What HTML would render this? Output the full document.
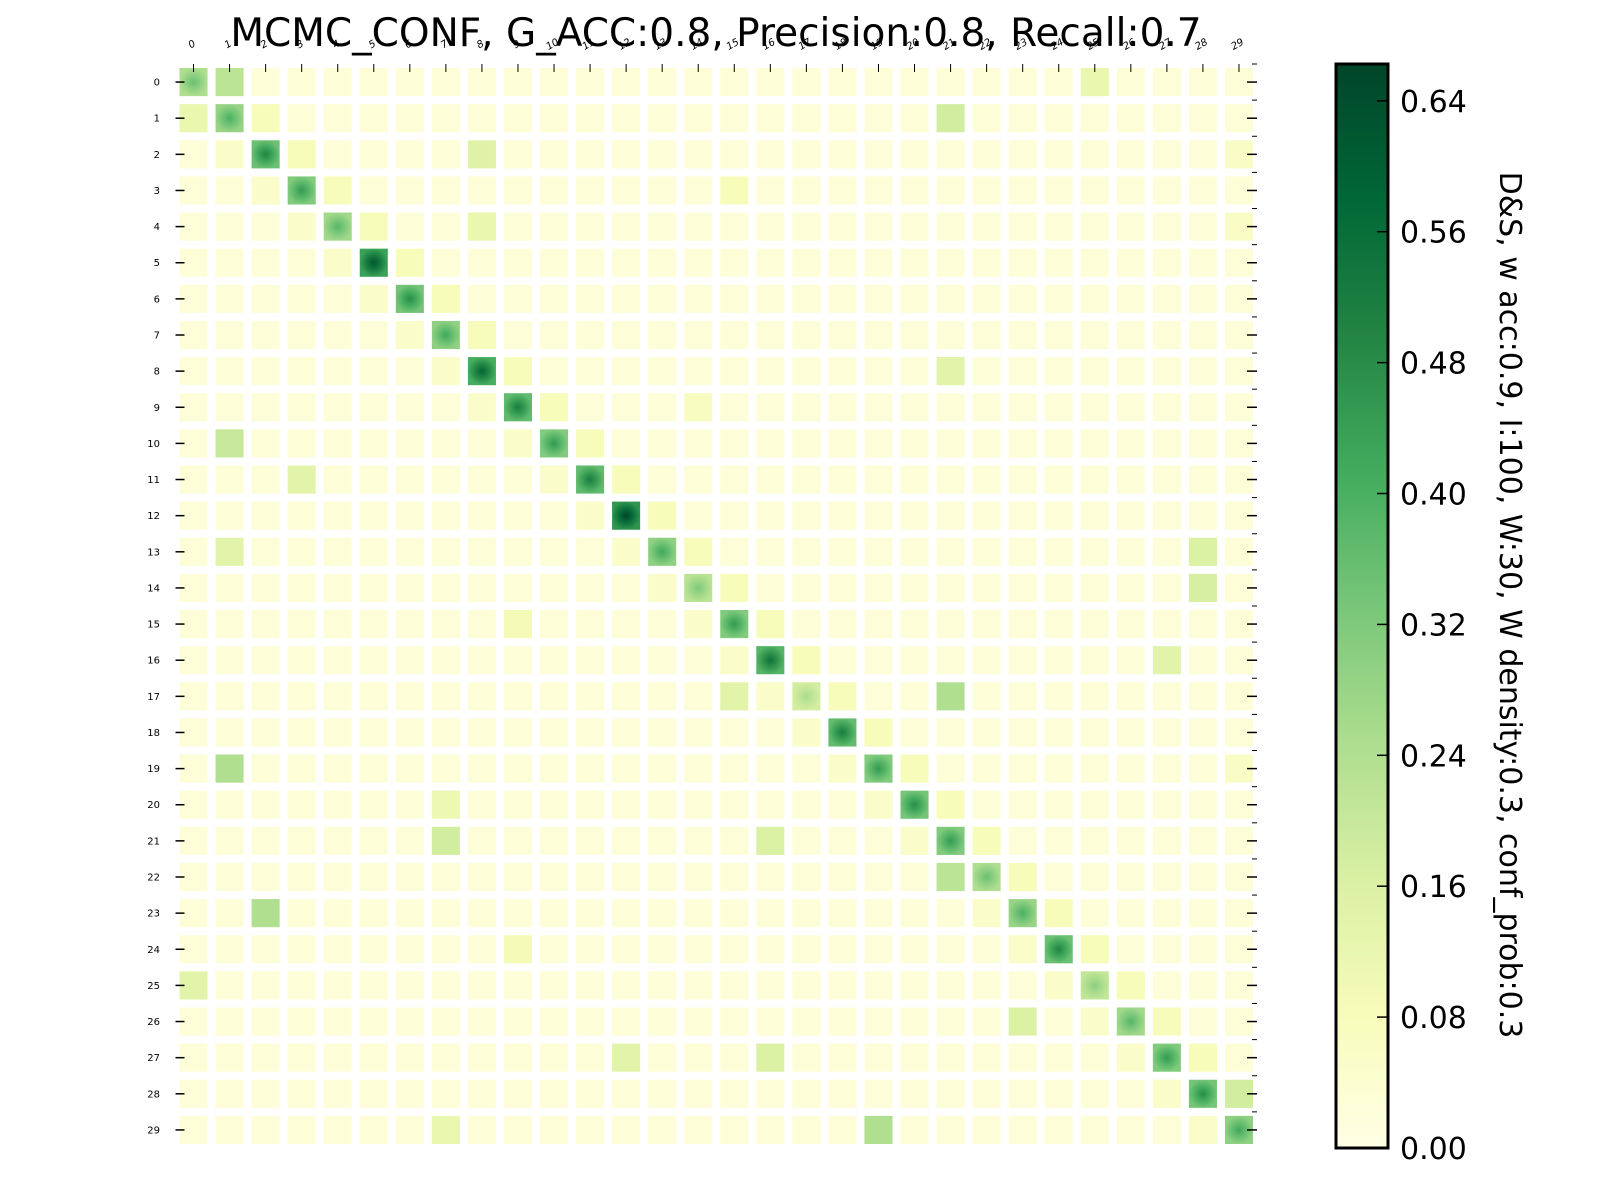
<!DOCTYPE html>
<html><head><meta charset="utf-8"><style>
body{margin:0;background:#fff;width:1600px;height:1200px;overflow:hidden;font-family:"DejaVu Sans","Liberation Sans",sans-serif}
svg text{font-family:"DejaVu Sans","Liberation Sans",sans-serif}
</style></head><body>
<svg id="svg" width="1600" height="1200" xmlns="http://www.w3.org/2000/svg">
<defs>
<linearGradient id="cbg" x1="0" y1="1" x2="0" y2="0">
<stop offset="0" stop-color="#ffffe5"/><stop offset="0.125" stop-color="#f7fcb9"/><stop offset="0.25" stop-color="#d9f0a3"/><stop offset="0.375" stop-color="#addd8e"/><stop offset="0.5" stop-color="#78c679"/><stop offset="0.625" stop-color="#41ab5d"/><stop offset="0.75" stop-color="#238443"/><stop offset="0.875" stop-color="#006837"/><stop offset="1" stop-color="#004529"/>
</linearGradient>
</defs>
<text x="716" y="46" font-size="39" text-anchor="middle">MCMC_CONF, G_ACC:0.8, Precision:0.8, Recall:0.7</text>
<g id="cells"></g>
<g id="axes"></g>
<rect x="1336" y="64" width="52" height="1084" fill="url(#cbg)" stroke="#000" stroke-width="3"/>
<g id="cbticks"></g>
<text transform="translate(1500,605) rotate(90)" font-size="30" text-anchor="middle">D&amp;S, w acc:0.9, I:100, W:30, W density:0.3, conf_prob:0.3</text>
</svg>
<script>
const N = 30;
const diagValues = [0.35,0.40,0.50,0.45,0.38,0.62,0.48,0.42,0.58,0.52,0.45,0.52,0.66,0.42,0.32,0.45,0.55,0.25,0.52,0.45,0.48,0.45,0.35,0.40,0.50,0.30,0.38,0.45,0.48,0.42];
const offRows = [0,1,1,2,3,4,8,10,11,13,13,14,15,16,17,17,19,20,21,21,22,23,24,25,26,27,27,29,29,0,2,4,9,19,28];
const offCols = [1,0,21,8,15,8,21,1,3,1,28,28,9,27,21,15,1,7,7,16,21,2,9,0,23,12,16,19,7,25,29,29,14,29,29];
const offValues = [0.22,0.12,0.18,0.15,0.08,0.12,0.14,0.20,0.14,0.14,0.16,0.17,0.09,0.14,0.24,0.14,0.24,0.11,0.18,0.16,0.22,0.24,0.09,0.14,0.16,0.14,0.16,0.24,0.12,0.12,0.06,0.06,0.07,0.06,0.18];
const cbTicks = [0,0.08,0.16,0.24,0.32,0.40,0.48,0.56,0.64];
const VMAX = 0.6625;
const X0=175.5, X1=1257, Y0=64, Y1=1148;
const stops=[[0,[255,255,229]],[0.125,[247,252,185]],[0.25,[217,240,163]],[0.375,[173,221,142]],[0.5,[120,198,121]],[0.625,[65,171,93]],[0.75,[35,132,67]],[0.875,[0,104,55]],[1,[0,69,41]]];
function cmap(v){let t=Math.max(0,Math.min(1,v/VMAX));for(let i=1;i<stops.length;i++){if(t<=stops[i][0]){const a=stops[i-1],b=stops[i];const f=(t-a[0])/(b[0]-a[0]);const c=a[1].map((x,k)=>Math.round(x+(b[1][k]-x)*f));return `rgb(${c})`;}}return 'rgb(0,69,41)';}
const xs=i=>X0+(X1-X0)*i/N, ys=i=>Y0+(Y1-Y0)*i/N;
const M=[];for(let r=0;r<N;r++){M.push([]);for(let c=0;c<N;c++)M[r].push(0.025);}
for(let i=0;i<N;i++){M[i][i]=diagValues[i];if(i+1<N){M[i][i+1]=Math.max(M[i][i+1],0.08);M[i+1][i]=Math.max(M[i+1][i],0.05);}}
offRows.forEach((r,k)=>{M[r][offCols[k]]=offValues[k];});
const NS='http://www.w3.org/2000/svg';
const svg=document.getElementById('svg'), defs=svg.querySelector('defs'), cells=document.getElementById('cells'), axes=document.getElementById('axes');
const cw=(X1-X0)/N, ch=(Y1-Y0)/N, pad=4;
for(let r=0;r<N;r++)for(let c=0;c<N;c++){
 const v=M[r][c];let fill=cmap(v);
 if(r===c){const g=document.createElementNS(NS,'radialGradient');g.setAttribute('id','g'+r);
  g.innerHTML=`<stop offset="0" stop-color="${cmap(v)}"/><stop offset="0.5" stop-color="${cmap(v*0.85)}"/><stop offset="1" stop-color="${cmap(v*0.7)}"/>`;defs.appendChild(g);fill=`url(#g${r})`;}
 const e=document.createElementNS(NS,'rect');
 e.setAttribute('x',xs(c)+pad);e.setAttribute('y',ys(r)+pad);e.setAttribute('width',cw-2*pad);e.setAttribute('height',ch-2*pad);e.setAttribute('fill',fill);
 
 
 cells.appendChild(e);
}
for(let i=0;i<N;i++){
 const cy=ys(i)+ch/2, cx=xs(i)+cw/2;
 const t=document.createElementNS(NS,'text');t.setAttribute('x',160);t.setAttribute('y',cy+3.5);t.setAttribute('font-size','10');t.setAttribute('text-anchor','end');t.textContent=i;
 
 
 axes.appendChild(t);
 const l=document.createElementNS(NS,'line');l.setAttribute('x1',X0);l.setAttribute('x2',X0+9);l.setAttribute('y1',cy);l.setAttribute('y2',cy);l.setAttribute('stroke','#000');l.setAttribute('stroke-width','1.5');
 
 
 axes.appendChild(l);
 const l2=document.createElementNS(NS,'line');l2.setAttribute('x1',X1-10);l2.setAttribute('x2',X1);l2.setAttribute('y1',cy);l2.setAttribute('y2',cy);l2.setAttribute('stroke','#000');l2.setAttribute('stroke-width','1.5');
 
 
 axes.appendChild(l2);
 const l3=document.createElementNS(NS,'line');l3.setAttribute('x1',X1-5);l3.setAttribute('x2',X1);l3.setAttribute('y1',ys(i));l3.setAttribute('y2',ys(i));l3.setAttribute('stroke','#000');l3.setAttribute('stroke-width','1');
 
 
 axes.appendChild(l3);
 const tx=document.createElementNS(NS,'text');tx.setAttribute('font-size','10');tx.setAttribute('font-style','italic');tx.setAttribute('text-anchor','middle');
 tx.setAttribute('transform',`translate(${cx},47) rotate(-30)`);tx.textContent=i;
 
 
 axes.appendChild(tx);
 const tl=document.createElementNS(NS,'line');tl.setAttribute('x1',cx);tl.setAttribute('x2',cx);tl.setAttribute('y1',Y0);tl.setAttribute('y2',Y0+8);tl.setAttribute('stroke','#000');tl.setAttribute('stroke-width','1');
 
 
 axes.appendChild(tl);
}
const cb=document.getElementById('cbticks');
cbTicks.forEach(v=>{const y=1148-(1148-64)*v/VMAX;
 const l=document.createElementNS(NS,'line');l.setAttribute('x1',1377);l.setAttribute('x2',1388);l.setAttribute('y1',y);l.setAttribute('y2',y);l.setAttribute('stroke','#000');l.setAttribute('stroke-width','1.5');
 
 
 cb.appendChild(l);
 const t=document.createElementNS(NS,'text');t.setAttribute('x',1400);t.setAttribute('y',y+11);t.setAttribute('font-size','30');t.textContent=v.toFixed(2);
 
 
 cb.appendChild(t);
});
</script>
</body></html>
